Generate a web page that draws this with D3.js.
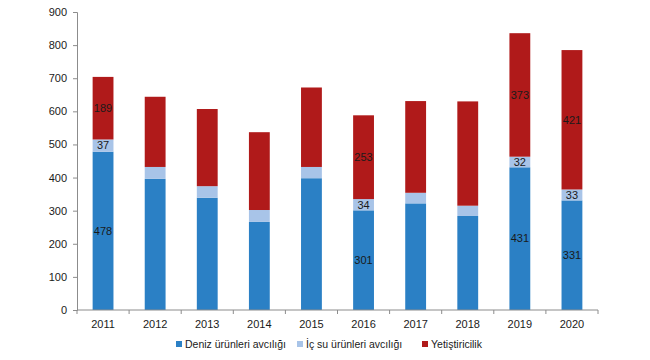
<!DOCTYPE html>
<html><head><meta charset="utf-8">
<script src="https://cdn.jsdelivr.net/npm/d3@7"></script>
<style>body{margin:0;background:#fff;}svg{display:block;font-family:"Liberation Sans",Arial,sans-serif;}</style>
</head><body><svg id="c" width="650" height="360"></svg>
<script>
const years = ["2011","2012","2013","2014","2015","2016","2017","2018","2019","2020"];
const deniz = [478,396,339,266,398,301,322,284,431,331];
const icsu  = [37,36,35,36,34,34,32,31,32,33];
const yetis = [189,212,233,235,240,253,277,315,373,421];
const seriesNames = ["Deniz ürünleri avcılığı","İç su ürünleri avcılığı","Yetiştiricilik"];
const labelled = {"2011":true,"2016":true,"2019":true,"2020":true};
const yTicks = [0,100,200,300,400,500,600,700,800,900];
const colors = ["#2b80c5","#a8c4e8","#b01a1a"];

const svg = d3.select("#c");
const m = {l:77, r:598, t:12, b:310};
const x = d3.scaleBand().domain(years).range([m.l, m.r]).paddingInner(0.6).paddingOuter(0.3);
const y = d3.scaleLinear().domain([0,900]).range([m.b, m.t]);

const rows = years.map((yr,i)=>({year:yr, d:deniz[i], i:icsu[i], y:yetis[i]}));
const stack = d3.stack().keys(["d","i","y"])(rows);

svg.append("g").selectAll("g").data(stack).join("g")
  .attr("fill",(s,k)=>colors[k])
  .selectAll("rect").data(s=>s).join("rect")
  .attr("x",d=>x(d.data.year)).attr("width",x.bandwidth())
  .attr("y",d=>y(d[1])).attr("height",d=>y(d[0])-y(d[1]));

// value labels
stack.forEach((s,k)=>{
  svg.append("g").selectAll("text").data(s.filter(d=>labelled[d.data.year])).join("text")
    .attr("x",d=>x(d.data.year)+x.bandwidth()/2)
    .attr("y",d=>(y(d[0])+y(d[1]))/2)
    .attr("dy","0.35em").attr("text-anchor","middle")
    .attr("font-size",11).attr("fill","#1a1a1a")
    .text(d=>d[1]-d[0]);
});

// y axis
const ya = svg.append("g").attr("transform",`translate(${m.l},0)`)
  .call(d3.axisLeft(y).tickValues(yTicks).tickSize(4).tickPadding(6));
ya.selectAll("path,line").attr("stroke","#8c8c8c");
ya.selectAll("text").attr("font-size",11).attr("fill","#1a1a1a").attr("font-family","Liberation Sans, Arial, sans-serif");

// x axis
const xa = svg.append("g").attr("transform",`translate(0,${m.b})`);
xa.append("line").attr("x1",m.l).attr("x2",m.r).attr("stroke","#8c8c8c");
const step = x.step();
const bounds = d3.range(years.length+1).map(i=>m.l + (m.r-m.l)*i/years.length);
xa.selectAll("line.t").data(bounds).join("line").attr("class","t")
  .attr("x1",d=>d).attr("x2",d=>d).attr("y1",0).attr("y2",4).attr("stroke","#8c8c8c");
xa.selectAll("text").data(years).join("text")
  .attr("x",d=>x(d)+x.bandwidth()/2).attr("y",18)
  .attr("text-anchor","middle").attr("font-size",11).attr("fill","#1a1a1a").text(d=>d);

// legend
const legX = [176,297,422];
const lg = svg.append("g");
seriesNames.forEach((n,k)=>{
  lg.append("rect").attr("x",legX[k]).attr("y",341).attr("width",6).attr("height",6).attr("fill",colors[k]);
  lg.append("text").attr("x",legX[k]+9).attr("y",348).attr("font-size",10.5).attr("fill","#1a1a1a").text(n);
});
</script></body></html>
